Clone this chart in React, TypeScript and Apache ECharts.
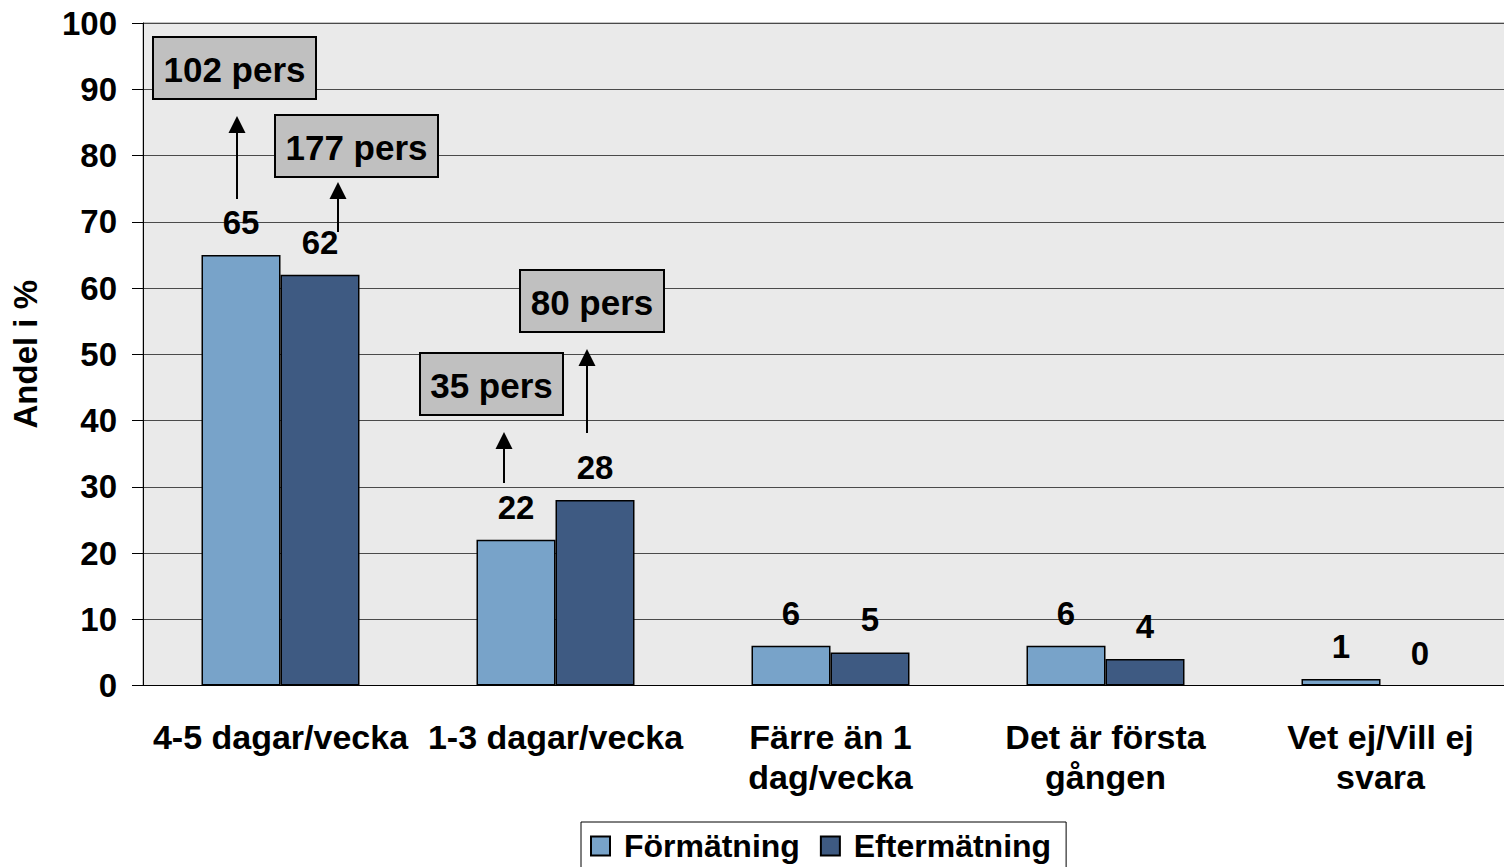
import React, { useEffect, useRef } from "react";
import * as echarts from "echarts";

const categories = [
  "4-5 dagar/vecka",
  "1-3 dagar/vecka",
  "Färre än 1\ndag/vecka",
  "Det är första\ngången",
  "Vet ej/Vill ej\nsvara",
];
const seriesNames = ["Förmätning", "Eftermätning"];
const formatning = [65, 22, 6, 6, 1];
const eftermatning = [62, 28, 5, 4, 0];
const yTicks = [0, 10, 20, 30, 40, 50, 60, 70, 80, 90, 100];

// Annotation boxes (text) with their arrows
const annotations = [
  { text: "102 pers", box: [153, 37, 163, 62], arrow: [237, 199, 116] },
  { text: "177 pers", box: [275, 115, 163, 62], arrow: [338, 232, 182] },
  { text: "35 pers", box: [420, 353, 143, 62], arrow: [504, 483, 432] },
  { text: "80 pers", box: [520, 270, 144, 62], arrow: [587, 433, 349] },
];

const FONT = "'Liberation Sans', Arial, Helvetica, sans-serif";

const toData = (arr: number[]) =>
  arr.map((v) => (v === 0 ? { value: v, itemStyle: { borderWidth: 0 } } : v));

export default function App() {
  const ref = useRef<HTMLDivElement>(null);
  useEffect(() => {
    if (!ref.current) return;
    const chart = echarts.init(ref.current, null, { renderer: "svg" });
    const graphics: any[] = [];
    annotations.forEach((a) => {
      const [x, y, w, h] = a.box;
      const [ax, ay0, ay1] = a.arrow;
      const headH = 17;
      graphics.push({
        type: "line",
        shape: { x1: ax, y1: ay0, x2: ax, y2: ay1 + headH },
        style: { stroke: "#000", lineWidth: 2 },
        z: 100,
      });
      graphics.push({
        type: "polygon",
        shape: { points: [[ax, ay1], [ax - 8.5, ay1 + headH], [ax + 8.5, ay1 + headH]] },
        style: { fill: "#000" },
        z: 100,
      });
      graphics.push({
        type: "rect",
        shape: { x, y, width: w, height: h },
        style: { fill: "#C0C0C0", stroke: "#000", lineWidth: 2 },
        z: 100,
      });
      graphics.push({
        type: "text",
        x: x + w / 2,
        y: y + h / 2 + 1,
        style: {
          text: a.text,
          fill: "#000",
          font: `bold 35px ${FONT}`,
          align: "center",
          verticalAlign: "middle",
        },
        z: 101,
      });
    });

    const labelOpt = {
      show: true,
      position: "top",
      distance: 16,
      color: "#000",
      fontSize: 33,
      fontWeight: "bold",
      fontFamily: FONT,
    };

    chart.setOption({
      animation: false,
      backgroundColor: "#fff",
      textStyle: { fontFamily: FONT },
      grid: {
        left: 143,
        width: 1375,
        top: 23,
        height: 662.5,
        outerBoundsMode: "none",
        containLabel: false,
        show: true,
        backgroundColor: "#EAEAEA",
        borderColor: "#8A8A8A",
        borderWidth: 1,
      },
      legend: {
        data: seriesNames,
        left: 581,
        top: 822,
        icon: "rect",
        itemWidth: 19,
        itemHeight: 19,
        itemGap: 20,
        padding: [8, 15, 8, 9],
        borderColor: "#000",
        borderWidth: 1,
        backgroundColor: "#fff",
        formatter: (n: string) => " " + n,
        textStyle: { fontSize: 32, fontWeight: "bold", color: "#000", fontFamily: FONT },
      },
      xAxis: {
        type: "category",
        data: categories,
        axisLine: { lineStyle: { color: "#000", width: 1 } },
        axisTick: { length: 8, lineStyle: { color: "#000" } },
        axisLabel: {
          interval: 0,
          margin: 31,
          fontSize: 34,
          lineHeight: 40,
          fontWeight: "bold",
          color: "#000",
          fontFamily: FONT,
        },
      },
      yAxis: {
        type: "value",
        min: 0,
        max: 100,
        interval: 10,
        name: "Andel i %",
        nameLocation: "middle",
        nameRotate: 90,
        nameGap: 101,
        nameTextStyle: { fontSize: 33, fontWeight: "bold", color: "#000", fontFamily: FONT },
        axisLine: { show: true, lineStyle: { color: "#000", width: 1 } },
        axisTick: { show: true, length: 11, lineStyle: { color: "#000" } },
        axisLabel: {
          margin: 26,
          fontSize: 33,
          fontWeight: "bold",
          color: "#000",
          fontFamily: FONT,
          formatter: (v: number) => (yTicks.includes(v) ? String(v) : ""),
        },
        splitLine: { lineStyle: { color: "#4a4a4a", width: 1 } },
      },
      series: [
        {
          name: seriesNames[0],
          type: "bar",
          data: toData(formatning),
          barWidth: 79,
          barGap: "0%",
          itemStyle: { color: "#78A3C9", borderColor: "#000", borderWidth: 1.5 },
          label: labelOpt,
        },
        {
          name: seriesNames[1],
          type: "bar",
          data: toData(eftermatning),
          barWidth: 79,
          barGap: "0%",
          itemStyle: { color: "#3E5A82", borderColor: "#000", borderWidth: 1.5 },
          label: labelOpt,
        },
      ],
      graphic: graphics,
    });
    return () => chart.dispose();
  }, []);
  return (
    <div
      ref={ref}
      style={{ position: "fixed", left: 0, top: 0, width: 1504, height: 867 }}
    />
  );
}
